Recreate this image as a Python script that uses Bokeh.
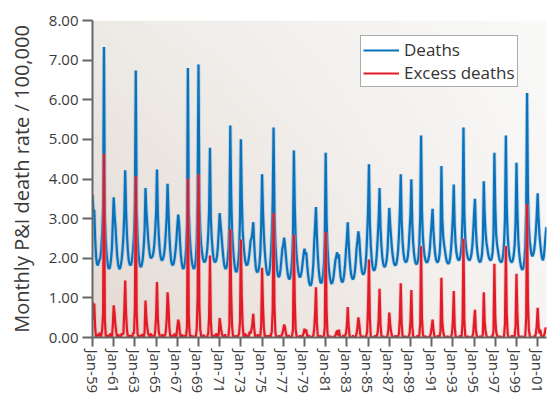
import numpy as np
from bokeh.plotting import figure
from bokeh.models import Range1d, FixedTicker, PrintfTickFormatter, Legend, LegendItem
from bokeh.embed import file_html
from bokeh.resources import INLINE

# Monthly P&I death rate per 100,000 (Jan 1959 - Nov 2001)
deaths_1959_1969 = [
    3.60, 3.18, 3.22, 2.50, 2.05, 1.86, 1.82, 1.90, 1.96, 2.02, 2.25, 2.65,
    3.30, 7.33, 3.05, 2.45, 2.10, 1.88, 1.76, 1.73, 1.80, 1.98, 2.25, 2.90,
    3.54, 3.10, 2.80, 2.40, 2.05, 1.85, 1.75, 1.73, 1.82, 1.96, 2.20, 2.55,
    3.10, 4.22, 3.20, 2.60, 2.20, 1.95, 1.85, 1.82, 1.86, 2.00, 2.25, 2.60,
    3.40, 6.74, 3.30, 2.55, 2.15, 1.90, 1.80, 1.78, 1.85, 2.00, 2.30, 2.70,
    3.77, 3.20, 2.85, 2.50, 2.25, 2.08, 2.00, 2.02, 2.05, 2.15, 2.35, 2.70,
    3.15, 4.24, 3.10, 2.60, 2.25, 2.05, 1.96, 1.95, 2.00, 2.10, 2.30, 2.65,
    3.05, 3.88, 3.20, 2.60, 2.20, 1.95, 1.85, 1.82, 1.88, 2.00, 2.20, 2.45,
    2.80, 3.10, 2.90, 2.45, 2.10, 1.88, 1.76, 1.73, 1.80, 1.95, 2.25, 2.85,
    6.80, 3.20, 2.60, 2.25, 2.00, 1.85, 1.76, 1.73, 1.80, 1.98, 2.40, 3.60,
    6.89, 3.40, 2.70, 2.35, 2.15, 2.00, 1.92, 1.90, 1.95, 2.05, 2.25, 2.60,
]
deaths_1970_1979 = [
    3.20, 4.79, 3.00, 2.50, 2.20, 2.00, 1.92, 1.90, 1.95, 2.05, 2.30, 2.70,
    3.14, 2.85, 2.60, 2.30, 2.05, 1.85, 1.76, 1.73, 1.80, 1.95, 2.25, 2.90,
    5.35, 3.60, 2.70, 2.30, 2.00, 1.80, 1.68, 1.65, 1.72, 1.90, 2.20, 3.00,
    5.00, 3.50, 2.70, 2.35, 2.10, 1.92, 1.84, 1.82, 1.88, 2.00, 2.20, 2.45,
    2.50, 2.65, 2.91, 2.40, 2.00, 1.75, 1.66, 1.65, 1.70, 1.85, 2.15, 2.80,
    4.12, 3.20, 2.60, 2.20, 1.90, 1.70, 1.60, 1.57, 1.62, 1.80, 2.10, 2.60,
    3.40, 5.30, 3.20, 2.40, 2.00, 1.70, 1.56, 1.52, 1.58, 1.75, 2.00, 2.25,
    2.35, 2.52, 2.30, 2.05, 1.80, 1.60, 1.50, 1.47, 1.53, 1.70, 2.00, 2.60,
    4.72, 3.30, 2.50, 2.10, 1.85, 1.65, 1.55, 1.52, 1.58, 1.70, 1.90, 2.10,
    2.24, 2.10, 2.15, 1.85, 1.60, 1.42, 1.33, 1.31, 1.38, 1.55, 1.85, 2.40,
]
deaths_1980_1989 = [
    2.80, 3.29, 2.60, 2.10, 1.75, 1.52, 1.40, 1.37, 1.42, 1.58, 1.85, 2.50,
    4.66, 3.00, 2.30, 1.90, 1.65, 1.48, 1.38, 1.36, 1.42, 1.55, 1.75, 1.95,
    2.05, 2.15, 2.00, 2.10, 1.75, 1.52, 1.42, 1.39, 1.45, 1.60, 1.85, 2.20,
    2.50, 2.91, 2.40, 2.00, 1.75, 1.57, 1.49, 1.47, 1.52, 1.65, 1.90, 2.25,
    2.45, 2.68, 2.50, 2.15, 1.85, 1.68, 1.60, 1.60, 1.65, 1.80, 2.10, 2.60,
    3.20, 4.37, 2.90, 2.35, 2.00, 1.80, 1.71, 1.69, 1.74, 1.88, 2.15, 2.55,
    3.00, 3.77, 2.80, 2.35, 2.05, 1.88, 1.80, 1.78, 1.84, 1.95, 2.20, 2.70,
    3.27, 2.85, 2.55, 2.25, 2.05, 1.90, 1.84, 1.82, 1.86, 1.98, 2.20, 2.60,
    3.20, 4.12, 2.95, 2.45, 2.15, 1.98, 1.92, 1.90, 1.94, 2.05, 2.30, 2.70,
    3.10, 3.99, 2.90, 2.40, 2.12, 1.95, 1.87, 1.85, 1.90, 2.02, 2.35, 3.00,
]
deaths_1990_2001 = [
    5.10, 3.20, 2.55, 2.25, 2.05, 1.95, 1.90, 1.90, 1.95, 2.05, 2.25, 2.60,
    2.90, 3.25, 2.70, 2.35, 2.10, 1.96, 1.91, 1.90, 1.96, 2.10, 2.50, 4.33,
    3.00, 2.55, 2.35, 2.20, 2.05, 1.93, 1.88, 1.86, 1.90, 2.02, 2.25, 2.60,
    3.05, 3.86, 2.85, 2.40, 2.15, 2.02, 1.96, 1.95, 2.00, 2.12, 2.40, 3.10,
    5.30, 3.10, 2.50, 2.25, 2.10, 2.00, 1.96, 1.95, 2.00, 2.10, 2.30, 2.65,
    3.10, 3.50, 2.75, 2.35, 2.12, 1.98, 1.92, 1.90, 1.96, 2.10, 2.50, 3.94,
    3.10, 2.65, 2.40, 2.25, 2.10, 2.00, 1.96, 1.95, 2.00, 2.15, 2.60, 4.66,
    3.30, 2.60, 2.35, 2.20, 2.05, 1.95, 1.91, 1.90, 1.95, 2.10, 2.40, 3.00,
    5.10, 3.30, 2.60, 2.25, 2.05, 1.95, 1.91, 1.90, 1.96, 2.10, 2.35, 2.90,
    4.41, 3.20, 2.50, 2.15, 1.95, 1.80, 1.73, 1.71, 1.78, 1.95, 2.30, 3.20,
    6.17, 3.60, 2.80, 2.45, 2.25, 2.10, 2.05, 2.10, 2.20, 2.40, 2.70, 3.10,
    3.64, 3.00, 2.60, 2.35, 2.15, 2.00, 1.95, 2.05, 2.30, 2.60, 2.79,
]

excess_1959_1969 = [
    0.90, 0.45, 0.86, 0.25, 0.02, 0.00, 0.08, 0.05, 0.12, 0.00, 0.05, 0.20,
    0.60, 4.64, 0.45, 0.05, 0.00, 0.06, 0.00, 0.00, 0.10, 0.03, 0.00, 0.30,
    0.81, 0.60, 0.30, 0.12, 0.00, 0.07, 0.05, 0.00, 0.00, 0.10, 0.08, 0.10,
    0.70, 1.44, 0.60, 0.20, 0.02, 0.00, 0.06, 0.00, 0.05, 0.00, 0.12, 0.10,
    0.75, 4.07, 0.65, 0.10, 0.00, 0.05, 0.00, 0.00, 0.08, 0.05, 0.00, 0.15,
    0.93, 0.50, 0.25, 0.10, 0.05, 0.00, 0.10, 0.02, 0.00, 0.06, 0.00, 0.15,
    0.55, 1.40, 0.50, 0.15, 0.05, 0.00, 0.00, 0.08, 0.03, 0.00, 0.05, 0.15,
    0.45, 1.14, 0.80, 0.25, 0.05, 0.00, 0.06, 0.00, 0.00, 0.10, 0.00, 0.05,
    0.25, 0.45, 0.35, 0.10, 0.00, 0.08, 0.00, 0.00, 0.05, 0.02, 0.05, 0.25,
    4.01, 0.55, 0.10, 0.00, 0.06, 0.00, 0.00, 0.04, 0.00, 0.05, 0.20, 1.00,
    4.12, 0.80, 0.20, 0.05, 0.00, 0.00, 0.07, 0.00, 0.00, 0.00, 0.03, 0.10,
]
excess_1970_1979 = [
    0.50, 2.07, 0.40, 0.05, 0.00, 0.06, 0.00, 0.00, 0.10, 0.05, 0.00, 0.10,
    0.49, 0.30, 0.15, 0.05, 0.00, 0.00, 0.08, 0.00, 0.00, 0.00, 0.05, 0.30,
    2.74, 1.10, 0.30, 0.05, 0.00, 0.00, 0.05, 0.00, 0.00, 0.05, 0.10, 0.40,
    2.47, 1.00, 0.30, 0.05, 0.00, 0.10, 0.00, 0.06, 0.00, 0.02, 0.15, 0.10,
    0.20, 0.35, 0.60, 0.25, 0.05, 0.00, 0.00, 0.08, 0.00, 0.00, 0.05, 0.30,
    1.76, 0.80, 0.25, 0.05, 0.00, 0.05, 0.00, 0.00, 0.06, 0.00, 0.05, 0.15,
    0.70, 3.14, 0.80, 0.15, 0.00, 0.00, 0.00, 0.05, 0.00, 0.00, 0.05, 0.10,
    0.20, 0.33, 0.25, 0.10, 0.02, 0.00, 0.06, 0.00, 0.00, 0.02, 0.05, 0.20,
    2.59, 0.90, 0.20, 0.05, 0.00, 0.00, 0.00, 0.05, 0.00, 0.00, 0.05, 0.10,
    0.22, 0.12, 0.20, 0.05, 0.00, 0.06, 0.00, 0.00, 0.00, 0.02, 0.05, 0.20,
]
excess_1980_1989 = [
    0.60, 1.27, 0.40, 0.05, 0.00, 0.00, 0.05, 0.00, 0.00, 0.00, 0.05, 0.25,
    2.66, 0.70, 0.10, 0.00, 0.00, 0.04, 0.00, 0.00, 0.00, 0.00, 0.03, 0.05,
    0.12, 0.18, 0.05, 0.20, 0.05, 0.00, 0.00, 0.00, 0.06, 0.00, 0.05, 0.10,
    0.30, 0.77, 0.30, 0.05, 0.00, 0.00, 0.00, 0.05, 0.00, 0.00, 0.02, 0.10,
    0.25, 0.51, 0.35, 0.10, 0.00, 0.00, 0.04, 0.00, 0.00, 0.02, 0.05, 0.15,
    0.80, 1.97, 0.50, 0.05, 0.00, 0.00, 0.00, 0.00, 0.05, 0.00, 0.05, 0.15,
    0.45, 1.23, 0.35, 0.05, 0.00, 0.04, 0.00, 0.00, 0.00, 0.00, 0.05, 0.20,
    0.63, 0.35, 0.15, 0.05, 0.00, 0.00, 0.00, 0.05, 0.00, 0.00, 0.03, 0.10,
    0.50, 1.37, 0.35, 0.05, 0.00, 0.00, 0.04, 0.00, 0.00, 0.00, 0.03, 0.10,
    0.40, 1.20, 0.30, 0.05, 0.00, 0.00, 0.00, 0.00, 0.05, 0.00, 0.05, 0.35,
]
excess_1990_2001 = [
    2.30, 0.50, 0.10, 0.00, 0.00, 0.04, 0.00, 0.00, 0.00, 0.00, 0.03, 0.10,
    0.25, 0.45, 0.20, 0.05, 0.00, 0.00, 0.00, 0.05, 0.00, 0.03, 0.15, 1.51,
    0.40, 0.15, 0.05, 0.00, 0.00, 0.00, 0.04, 0.00, 0.00, 0.00, 0.03, 0.10,
    0.40, 1.17, 0.30, 0.05, 0.00, 0.00, 0.00, 0.00, 0.05, 0.00, 0.05, 0.40,
    2.49, 0.40, 0.05, 0.00, 0.00, 0.04, 0.00, 0.00, 0.00, 0.00, 0.03, 0.10,
    0.40, 0.70, 0.20, 0.05, 0.00, 0.00, 0.00, 0.04, 0.00, 0.00, 0.10, 1.14,
    0.40, 0.15, 0.05, 0.00, 0.00, 0.00, 0.00, 0.00, 0.04, 0.03, 0.15, 1.86,
    0.50, 0.15, 0.05, 0.00, 0.00, 0.04, 0.00, 0.00, 0.00, 0.00, 0.05, 0.35,
    2.31, 0.60, 0.10, 0.00, 0.00, 0.00, 0.00, 0.05, 0.00, 0.00, 0.05, 0.30,
    1.61, 0.60, 0.10, 0.00, 0.00, 0.00, 0.04, 0.00, 0.00, 0.00, 0.05, 0.50,
    3.36, 0.90, 0.20, 0.05, 0.00, 0.00, 0.00, 0.00, 0.04, 0.02, 0.10, 0.30,
    0.75, 0.30, 0.10, 0.20, 0.05, 0.00, 0.00, 0.05, 0.10, 0.25, 0.20,
]

x_tick_labels = ["Jan-59", "Jan-61", "Jan-63", "Jan-65", "Jan-67", "Jan-69",
                 "Jan-71", "Jan-73", "Jan-75", "Jan-77", "Jan-79", "Jan-81",
                 "Jan-83", "Jan-85", "Jan-87", "Jan-89", "Jan-91", "Jan-93",
                 "Jan-95", "Jan-97", "Jan-99", "Jan-01"]
y_ticks = [0, 1, 2, 3, 4, 5, 6, 7, 8]

deaths = deaths_1959_1969 + deaths_1970_1979 + deaths_1980_1989 + deaths_1990_2001
excess = excess_1959_1969 + excess_1970_1979 + excess_1980_1989 + excess_1990_2001
months = list(range(len(deaths)))          # month index since Jan 1959
x_ticks = [24 * i for i in range(len(x_tick_labels))]

x_start, x_end = months[0], months[-1]
y_start, y_end = y_ticks[0], y_ticks[-1]

FONT = "Open Sans"

p = figure(width=553, height=400, output_backend="svg", toolbar_location=None,
           x_range=Range1d(x_start, x_end), y_range=Range1d(y_start, y_end),
           min_border_left=92, min_border_right=7, min_border_top=20,
           min_border_bottom=63, background_fill_color="white",
           border_fill_color="white", outline_line_color=None)
p.grid.visible = False

# soft background gradient of the plotting area (decoration only)
H, W = 120, 240
v = np.linspace(0, 1, H)[:, None]   # bottom -> top
u = np.linspace(0, 1, W)[None, :]   # left -> right
bl = np.array([229, 218, 211]); tl = np.array([238, 235, 231])
br = np.array([246, 244, 242]); tr = np.array([250, 250, 249])
rgb = ((1 - u)[..., None] * ((1 - v)[..., None] * bl + v[..., None] * tl)
       + u[..., None] * ((1 - v)[..., None] * br + v[..., None] * tr))
img = np.empty((H, W), dtype=np.uint32)
view = img.view(dtype=np.uint8).reshape((H, W, 4))
view[..., :3] = rgb.astype(np.uint8)
view[..., 3] = 255
p.image_rgba(image=[img], x=x_start, y=y_start, dw=x_end - x_start, dh=y_end - y_start)

# lines (soft halo + core)
p.line(months, deaths, line_color="#7fb6e0", line_width=4, line_alpha=0.45)
blue = p.line(months, deaths, line_color="#0a72ba", line_width=2.2)
p.line(months, excess, line_color="#f19aa0", line_width=4, line_alpha=0.45)
red = p.line(months, excess, line_color="#e21c26", line_width=2.2)

# axes
for ax in (p.xaxis[0], p.yaxis[0]):
    ax.axis_line_color = "#666666"
    ax.axis_line_width = 2
    ax.major_tick_line_color = "#666666"
    ax.major_tick_line_width = 2
    ax.major_tick_in = 0
    ax.minor_tick_line_color = None
    ax.major_label_text_font = FONT
    ax.major_label_text_color = "#3a3a3a"

p.yaxis.ticker = FixedTicker(ticks=y_ticks)
p.yaxis.formatter = PrintfTickFormatter(format="%.2f")
p.yaxis.major_tick_out = 10
p.yaxis.major_label_text_font_size = "15px"
p.yaxis.major_label_standoff = 4
p.yaxis.axis_label = "Monthly P&I death rate / 100,000"
p.yaxis.axis_label_text_font = FONT
p.yaxis.axis_label_text_font_size = "20px"
p.yaxis.axis_label_text_font_style = "normal"
p.yaxis.axis_label_text_color = "#3a3a3a"
p.yaxis.axis_label_standoff = 11

p.xaxis.ticker = FixedTicker(ticks=x_ticks)
p.xaxis.major_label_overrides = {t: lab for t, lab in zip(x_ticks, x_tick_labels)}
p.xaxis.major_label_orientation = "vertical"
p.xaxis.major_tick_out = 9
p.xaxis.major_label_text_font_size = "15px"
p.xaxis.major_label_standoff = 3

legend = Legend(items=[LegendItem(label="Deaths", renderers=[blue]),
                       LegendItem(label="Excess deaths", renderers=[red])],
                location=(268, 250), margin=0, padding=2, spacing=0,
                glyph_width=36, glyph_height=20, label_height=20, label_standoff=5,
                border_line_color="#555555", border_line_width=1,
                background_fill_color="white", background_fill_alpha=1,
                label_text_font=FONT, label_text_font_size="17px",
                label_text_color="#333333")
p.add_layout(legend)

open("out.html", "w").write(file_html(p, INLINE))
